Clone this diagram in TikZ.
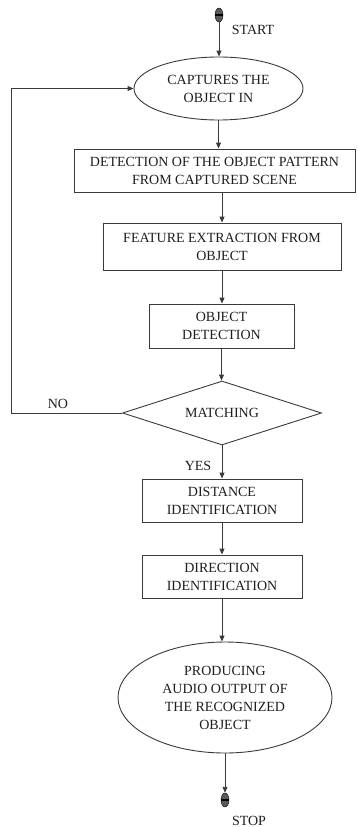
\documentclass[tikz,border=0pt]{standalone}
\usepackage{fontspec}
\setmainfont{Liberation Serif}
\usepackage{tikz}
\usetikzlibrary{arrows.meta,shapes.geometric}
\definecolor{inkx}{HTML}{1E1E1E}
\definecolor{linex}{HTML}{3A3A3A}
\newcommand{\fcfont}{\fontsize{14}{18}\selectfont}
\tikzset{
  ov/.style={draw=linex,line width=0.9pt,ellipse,inner sep=0pt,align=center,text=inkx,font=\fcfont},
  box/.style={draw=linex,line width=0.9pt,rectangle,inner sep=0pt,align=center,text=inkx,font=\fcfont},
  dm/.style={draw=linex,line width=0.9pt,diamond,aspect=3,inner sep=0pt,align=center,text=inkx,font=\fcfont},
  dot/.style={ellipse,draw=black,fill=black!65,minimum width=8pt,minimum height=14pt,inner sep=0pt,
    path picture={\draw[black,line width=1.2pt] (path picture bounding box.west) -- (path picture bounding box.east);}},
  ar/.style={-{Triangle[length=6pt,width=5pt]},line width=0.9pt,linex},
  lbl/.style={text=inkx,font=\fcfont,inner sep=0pt}
}
\begin{document}
\begin{tikzpicture}[x=1pt,y=-1pt]
\useasboundingbox (0,0) rectangle (358,827);
% terminals
\node[dot] (start) at (219,15) {};
\node[dot] (stop) at (225,800) {};
\node[lbl] (startlbl) at (253,30) {START};
\node[lbl] (stoplbl) at (249,821) {STOP};
% process steps
\node[ov,minimum width=169pt,minimum height=63pt] (cap) at (218.5,88.5) {CAPTURES THE\\OBJECT IN};
\node[box,minimum width=281pt,minimum height=43pt] (det) at (214.5,170.5) {DETECTION OF THE OBJECT PATTERN\\FROM CAPTURED SCENE};
\node[box,minimum width=238pt,minimum height=47pt] (feat) at (222,246.5) {FEATURE EXTRACTION FROM\\OBJECT};
\node[box,minimum width=145pt,minimum height=44pt] (objdet) at (221.5,326) {OBJECT\\DETECTION};
\node[dm,minimum width=199pt,minimum height=64pt] (match) at (222,413) {MATCHING};
\node[box,minimum width=160pt,minimum height=43pt] (dist) at (222,500.5) {DISTANCE\\IDENTIFICATION};
\node[box,minimum width=160pt,minimum height=43pt] (dir) at (222,576.5) {DIRECTION\\IDENTIFICATION};
\node[ov,minimum width=214pt,minimum height=111pt] (prod) at (225,697.5) {PRODUCING\\AUDIO OUTPUT OF\\THE RECOGNIZED\\OBJECT};
% branch labels
\node[lbl] (nolbl) at (58,404) {NO};
\node[lbl] (yeslbl) at (198,466) {YES};
% connectors
\draw[ar] (start.south) -- (start.south |- cap.north);
\draw[ar] (cap.south) -- (cap.south |- det.north);
\draw[ar] (det.south -| feat.north) -- (feat.north);
\draw[ar] (feat.south) -- (feat.south |- objdet.north);
\draw[ar] (objdet.south) -- (objdet.south |- match.north);
\draw[ar] (match.south) -- (match.south |- dist.north);
\draw[ar] (dist.south) -- (dist.south |- dir.north);
\draw[ar] (dir.south) -- (dir.south |- prod.north);
\draw[ar] (prod.south) -- (prod.south |- stop.north);
\draw[ar] (match.west) -- ++(-110.5,0) |- (cap.west);
\end{tikzpicture}
\end{document}
